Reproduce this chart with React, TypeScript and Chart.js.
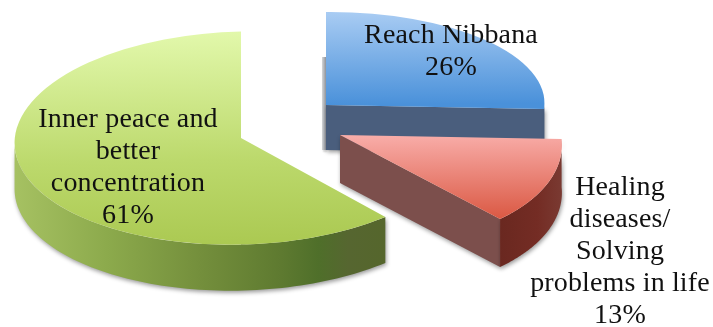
import React, { useEffect, useRef } from "react";
import { Chart, registerables } from "chart.js";

Chart.register(...registerables);

const categories = ["Reach Nibbana", "Healing diseases/ Solving problems in life", "Inner peace and better concentration"];
const shares = [26, 13, 61];
const captionLines = [
  ["Reach Nibbana"],
  ["Healing", "diseases/", "Solving", "problems in life"],
  ["Inner peace and", "better", "concentration"],
];

const WIDTH = 713;
const HEIGHT = 327;
const RADIUS = 222;
const LINE_HEIGHT = 32;
const FONT = '28px "Liberation Serif", serif';

// Placement of each exploded slice: tip position, a tilt matrix that approximates
// the perspective of the disc, and the thickness of the slab.
const slabs = [
  { ox: 326, oy: 105, a: 0.984, b: -0.0083, c: 0, d: 0.419, depth: 45, sideShadow: -4 },
  { ox: 340, oy: 135, a: 0.993, b: -0.0136, c: 0.1142, d: 0.5026, depth: 48, sideShadow: 0 },
  { ox: 241, oy: 138, a: 1.02, b: -0.0225, c: 0, d: 0.48, depth: 46, sideShadow: 4 },
];

// Caption anchors: horizontal centre and first baseline.
const captionAnchors = [
  { x: 451, y: 43 },
  { x: 620, y: 195 },
  { x: 128, y: 127 },
];

const topStops = [
  [[0, "#a9ccf3"], [0.5, "#4a91da"], [1, "#4a91da"]],
  [[0, "#f9aeaa"], [0.5, "#f9aeaa"], [0.9, "#d9553f"], [1, "#d9553f"]],
  [[0, "#e2f8ab"], [0.6, "#bcd96c"], [1, "#abc952"]],
];
const cutWallColors = ["#4a5e7d", "#7c4f4c", "#5a6f2c"];
const rimStops = [
  [[0, "#4a5e7d"], [1, "#4a5e7d"]],
  [[0, "#6a2820"], [0.6, "#742c24"], [1, "#7a3a32"]],
  [[0, "#a6c162"], [0.25, "#8caa4c"], [0.5, "#748f3c"], [0.72, "#5e7a30"], [0.82, "#4f6f2a"], [0.9, "#566630"], [1, "#55662c"]],
];

function toScreen(slab: any, x: number, y: number): [number, number] {
  return [slab.ox + slab.a * x + slab.c * y, slab.oy + slab.b * x + slab.d * y];
}

function rimPoint(slab: any, angle: number, r: number) {
  return toScreen(slab, r * Math.cos(angle), r * Math.sin(angle));
}

function fillPolygon(ctx: CanvasRenderingContext2D, pts: number[][], style: any) {
  ctx.beginPath();
  pts.forEach(([x, y], i) => (i ? ctx.lineTo(x, y) : ctx.moveTo(x, y)));
  ctx.closePath();
  ctx.fillStyle = style;
  ctx.fill();
}

function horizontalGradient(ctx: CanvasRenderingContext2D, x0: number, x1: number, stops: any[]) {
  const g = ctx.createLinearGradient(x0, 0, x1, 0);
  stops.forEach(([p, col]) => g.addColorStop(p, col));
  return g;
}

const slabPlugin = {
  id: "slab",
  beforeDatasetsDraw(chart: any) {
    const ctx: CanvasRenderingContext2D = chart.ctx;
    const arcs = chart.getDatasetMeta(0).data;

    // Walls first, back to front, so the top faces can sit over them.
    arcs.forEach((arc: any, i: number) => {
      const s = slabs[i];
      const r = arc.outerRadius;
      ctx.save();
      ctx.shadowColor = "rgba(0,0,0,0.4)";
      ctx.shadowBlur = 4;
      ctx.shadowOffsetX = 1;
      ctx.shadowOffsetY = 2;

      if (s.sideShadow) {
        const [, sy] = rimPoint(s, arc.startAngle, r);
        const x0 = s.ox;
        const x1 = s.ox + s.sideShadow;
        const g = horizontalGradient(ctx, x0, x1, [[0, "#8f939a"], [1, "#d4d6d8"]]);
        ctx.save();
        ctx.shadowBlur = 2;
        ctx.shadowColor = "rgba(0,0,0,0.15)";
        fillPolygon(ctx, [[x0, sy + s.depth], [x1, sy + s.depth], [x1, s.oy + s.depth], [x0, s.oy + s.depth]], g);
        ctx.restore();
      }

      // Flat cut that faces the viewer, from the tip out along the slice's end edge.
      if (i !== 2) {
        const [ex, ey] = rimPoint(s, arc.endAngle, r);
        fillPolygon(ctx, [[s.ox, s.oy], [ex, ey], [ex, ey + s.depth], [s.ox, s.oy + s.depth]], cutWallColors[i]);
      }

      // Curved outer wall, only the part that faces front.
      const from = Math.max(arc.startAngle, 0);
      const to = Math.min(arc.endAngle, Math.PI);
      if (to > from) {
        const upper: number[][] = [];
        const steps = 80;
        for (let k = 0; k <= steps; k++) upper.push(rimPoint(s, from + ((to - from) * k) / steps, r));
        const lower = upper.map(([x, y]) => [x, y + s.depth]).reverse();
        const xs = upper.map((p) => p[0]);
        const g = horizontalGradient(ctx, Math.min(...xs), Math.max(...xs), rimStops[i]);
        fillPolygon(ctx, [...upper, ...lower], g);
      }
      ctx.restore();
    });

    // Top faces, drawn by the arc elements themselves inside each slice's tilt.
    arcs.forEach((arc: any, i: number) => {
      const s = slabs[i];
      ctx.save();
      ctx.translate(s.ox, s.oy);
      ctx.transform(s.a, s.b, s.c, s.d, 0, 0);
      ctx.translate(-arc.x, -arc.y);
      arc.draw(ctx);
      ctx.restore();
    });
    return false;
  },
  afterDraw(chart: any) {
    const ctx: any = chart.ctx;
    ctx.save();
    ctx.font = FONT;
    ctx.letterSpacing = "0.15px";
    ctx.fillStyle = "#111111";
    ctx.textAlign = "center";
    ctx.textBaseline = "alphabetic";
    captionLines.forEach((lines, i) => {
      const { x, y } = captionAnchors[i];
      [...lines, `${shares[i]}%`].forEach((line, k) => ctx.fillText(line, x, y + k * LINE_HEIGHT));
    });
    ctx.restore();
  },
};

export default function App() {
  const ref = useRef<HTMLCanvasElement>(null);
  useEffect(() => {
    const chart = new Chart(ref.current!, {
      type: "pie",
      data: {
        labels: categories,
        datasets: [
          {
            data: shares,
            borderWidth: 0,
            backgroundColor: (c: any) => {
              const area = c.chart.chartArea;
              if (!area) return "#cccccc";
              const cy = (area.top + area.bottom) / 2;
              // The gradient spans the full disc in the slice's own flat coordinates.
              const g = c.chart.ctx.createLinearGradient(0, cy - RADIUS, 0, cy + RADIUS);
              topStops[c.dataIndex].forEach(([p, col]: any) => g.addColorStop(p, col));
              return g;
            },
          },
        ],
      },
      options: {
        responsive: false,
        animation: false,
        radius: RADIUS,
        plugins: { legend: { display: false }, tooltip: { enabled: false } },
      } as any,
      plugins: [slabPlugin],
    });
    return () => chart.destroy();
  }, []);
  return (
    <div style={{ position: "absolute", left: 0, top: 0, width: WIDTH, height: HEIGHT }}>
      <canvas ref={ref} width={WIDTH} height={HEIGHT} style={{ display: "block" }} />
    </div>
  );
}
